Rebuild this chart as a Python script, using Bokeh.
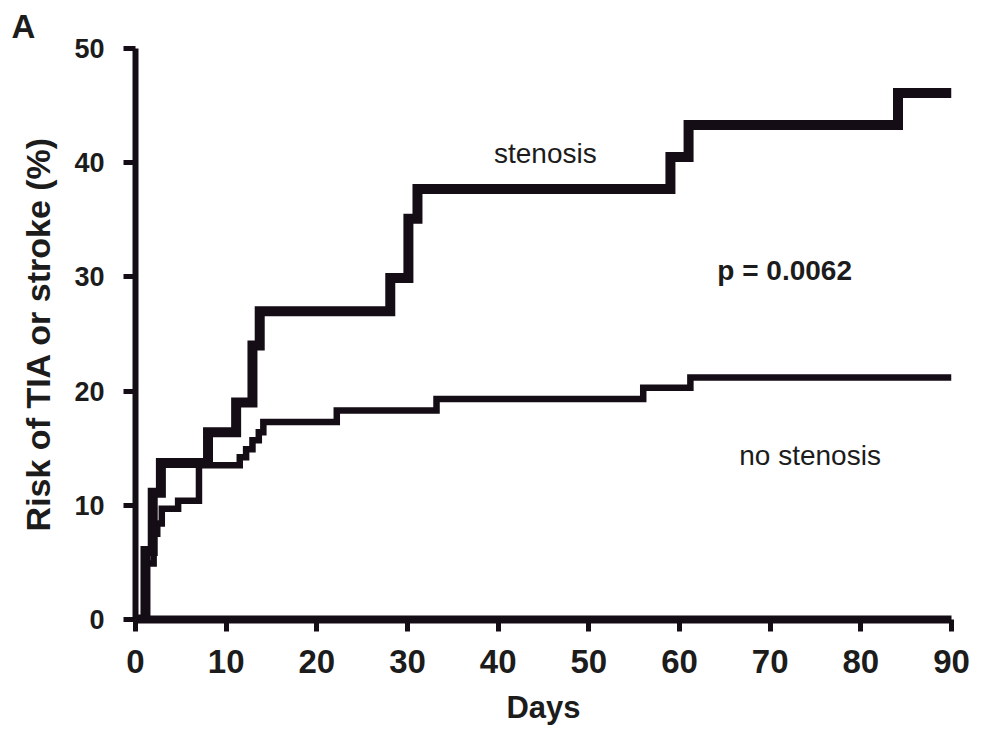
from bokeh.plotting import figure
from bokeh.models import FixedTicker, Range1d
from bokeh.core.properties import value
from bokeh.embed import file_html
from bokeh.resources import INLINE

# ---- data ----
x_ticks = [0, 10, 20, 30, 40, 50, 60, 70, 80, 90]
y_ticks = [0, 10, 20, 30, 40, 50]

stenosis_days = [0, 1.1, 1.9, 2.8, 8.0, 11.1, 12.9, 13.7, 28.1, 30.1, 31.1, 59.0, 61.0, 84.1, 90]
stenosis_risk = [0, 6.0, 11.1, 13.7, 16.4, 19.0, 24.0, 27.0, 29.9, 35.1, 37.7, 40.5, 43.3, 46.1, 46.1]

no_stenosis_days = [0, 1.1, 2.0, 2.4, 2.9, 4.7, 7.0, 11.5, 12.2, 12.9, 13.6, 14.1, 22.2, 33.2, 56.0, 61.2, 90]
no_stenosis_risk = [0, 4.9, 7.5, 8.4, 9.7, 10.4, 13.5, 14.2, 14.9, 15.7, 16.4, 17.3, 18.3, 19.3, 20.3, 21.2, 21.2]

LINE = "#150d15"
TXT = "#1c1c1c"
FONT = "Liberation Sans"

p = figure(width=974, height=739, output_backend="svg", toolbar_location=None,
           x_range=Range1d(0, 90), y_range=Range1d(0, 50),
           min_border_left=135, min_border_right=23, min_border_top=48, min_border_bottom=120)
p.outline_line_color = None
p.grid.grid_line_color = None
p.background_fill_color = "white"
p.border_fill_color = "white"

p.title.text = "A"
p.title.align = "left"
p.title.offset = -124
p.title.standoff = 7
p.title.text_font = FONT
p.title.text_font_size = "33px"
p.title.text_font_style = "bold"
p.title.text_color = TXT

p.step(no_stenosis_days, no_stenosis_risk, mode="after", line_width=6.5,
       line_color=LINE, line_join="miter")
p.step(stenosis_days, stenosis_risk, mode="after", line_width=10,
       line_color=LINE, line_join="miter")

p.xaxis.ticker = FixedTicker(ticks=x_ticks)
p.yaxis.ticker = FixedTicker(ticks=y_ticks)
for ax in (p.xaxis[0], p.yaxis[0]):
    ax.axis_line_color = LINE
    ax.major_tick_line_color = LINE
    ax.major_tick_line_width = 5
    ax.major_tick_in = 0
    ax.major_tick_out = 12
    ax.minor_tick_line_color = None
    ax.major_label_text_font = FONT
    ax.major_label_text_font_style = "bold"
    ax.major_label_text_color = TXT
    ax.axis_label_text_font = FONT
    ax.axis_label_text_font_style = "bold"
    ax.axis_label_text_color = TXT

p.xaxis.axis_line_width = 8
p.yaxis.axis_line_width = 6
p.xaxis.major_label_text_font_size = "33px"
p.yaxis.major_label_text_font_size = "27px"
p.xaxis.major_label_standoff = 18
p.yaxis.major_label_standoff = 19
p.xaxis.axis_label = "Days"
p.yaxis.axis_label = "Risk of TIA or stroke (%)"
p.xaxis.axis_label_text_font_size = "31px"
p.yaxis.axis_label_text_font_size = "34px"
p.xaxis.axis_label_standoff = 14
p.yaxis.axis_label_standoff = 14

p.text(x=[45.2], y=[40.8], text=["stenosis"], text_font=value(FONT), text_font_size="28px",
       text_align="center", text_baseline="middle", text_color=TXT)
p.text(x=[74.4], y=[14.4], text=["no stenosis"], text_font=value(FONT), text_font_size="28px",
       text_align="center", text_baseline="middle", text_color=TXT)
p.text(x=[71.6], y=[30.6], text=["p = 0.0062"], text_font=value(FONT), text_font_size="28px",
       text_font_style="bold", text_align="center", text_baseline="middle", text_color=TXT)

open("out.html", "w").write(file_html(p, INLINE))
